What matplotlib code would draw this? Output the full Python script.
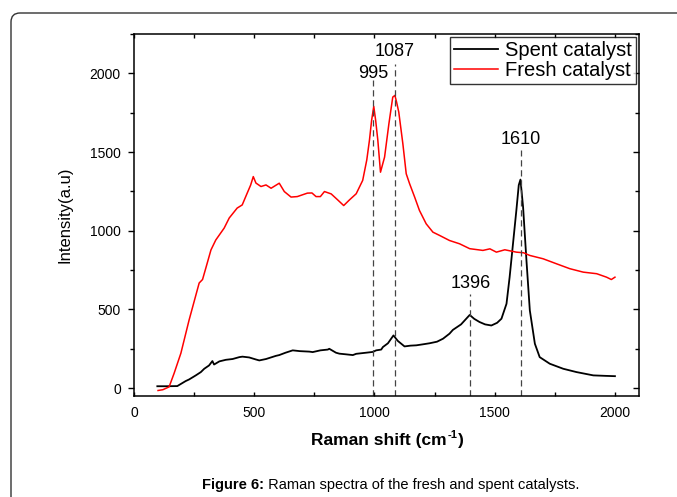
import matplotlib
matplotlib.use("Agg")
import matplotlib.pyplot as plt
from matplotlib.patches import FancyBboxPatch
from matplotlib.transforms import IdentityTransform
from matplotlib.ticker import MultipleLocator

plt.rcParams['font.family'] = ['Liberation Sans', 'DejaVu Sans']
plt.rcParams['mathtext.fontset'] = 'custom'
plt.rcParams['mathtext.rm'] = 'Liberation Sans'
plt.rcParams['mathtext.bf'] = 'Liberation Sans:bold'

# ---- data ----
fresh_x = [100, 120, 146, 167, 195, 229, 271, 285, 300, 320, 340, 375, 396, 429, 450, 471, 485,
           496, 507, 528, 549, 570, 604, 625, 653, 679, 721, 740, 757, 775, 792, 820, 847,
           872, 896, 924, 951, 968, 979, 988, 997, 1005, 1014, 1025, 1042, 1060, 1076, 1085,
           1092, 1101, 1118, 1132, 1146, 1167, 1187, 1215, 1243, 1271, 1312, 1354, 1396,
           1451, 1480, 1507, 1542, 1590, 1620, 1646, 1701, 1757, 1812, 1868, 1924, 1965, 1985, 2000]
fresh_y = [-15, -10, 8, 95, 222, 432, 668, 690, 770, 878, 941, 1017, 1081, 1144, 1164, 1240, 1290,
           1344, 1303, 1281, 1291, 1270, 1302, 1249, 1214, 1217, 1239, 1240, 1217, 1217, 1249,
           1234, 1196, 1160, 1196, 1235, 1320, 1450, 1574, 1700, 1790, 1700, 1574, 1372, 1468,
           1680, 1849, 1860, 1817, 1754, 1553, 1362, 1299, 1214, 1129, 1044, 991, 970, 938,
           917, 886, 875, 885, 864, 879, 864, 860, 843, 822, 790, 759, 737, 727, 705, 690, 705]

spent_x = [97, 130, 180, 215, 229, 257, 278, 292, 312, 320, 326, 333, 355, 382, 410, 438, 451,
           479, 507, 521, 549, 590, 604, 630, 660, 690, 729, 743, 775, 806, 812, 840, 854, 880,
           910, 924, 965, 993, 1007, 1028, 1035, 1056, 1079, 1097, 1125, 1150, 1174, 1200,
           1229, 1260, 1285, 1312, 1326, 1360, 1396, 1415, 1437, 1460, 1486, 1510, 1528, 1549,
           1562, 1576, 1590, 1600, 1607, 1618, 1632, 1646, 1667, 1687, 1729, 1785, 1840, 1910,
           1960, 2000]
spent_y = [12, 12, 13, 45, 55, 81, 102, 123, 144, 160, 172, 150, 170, 180, 185, 197, 200,
           195, 182, 176, 185, 205, 210, 225, 240, 235, 232, 229, 240, 245, 250, 225, 219, 215,
           210, 218, 225, 230, 240, 245, 261, 285, 335, 300, 265, 270, 272, 278,
           285, 295, 314, 346, 370, 405, 465, 440, 420, 405, 398, 415, 441, 536,
           705, 917, 1129, 1290, 1325, 1150, 811, 494, 282, 197, 155, 123, 102, 81,
           78, 76]

peak_pos = [995, 1087, 1396, 1610]
peak_labels = ["995", "1087", "1396", "1610"]
peak_line_top = [1960, 2061, 600, 1510]
peak_label_xy = [(996, 2001), (1083, 2141), (1399, 667), (1607, 1578)]

series_labels = ["Spent catalyst", "Fresh catalyst"]
xlabel_main = "Raman shift (cm"
xlabel_sup = "-1"
xlabel_end = ")"
ylabel = "Intensity(a.u)"
caption_bold = "Figure 6:"
caption_rest = " Raman spectra of the fresh and spent catalysts."

# ---- figure ----
W, H = 677, 497
fig = plt.figure(figsize=(W / 100, H / 100), dpi=100)
ax = fig.add_axes([134 / W, 1 - 396 / H, (639 - 134) / W, (396 - 34) / H])

ax.plot(spent_x, spent_y, color='black', lw=1.3, label=series_labels[0])
ax.plot(fresh_x, fresh_y, color='#ff0000', lw=1.1, label=series_labels[1])

ymin = -50
for xp, top, lab, (tx, ty) in zip(peak_pos, peak_line_top, peak_labels, peak_label_xy):
    ax.plot([xp, xp], [ymin, top], color='#444444', lw=0.9, linestyle=(0, (5, 3)))
    ax.text(tx, ty, lab, fontsize=13, ha='center', va='center')

ax.set_xlim(0, 2100)
ax.set_ylim(ymin, 2250)
ax.xaxis.set_major_locator(MultipleLocator(500))
ax.xaxis.set_minor_locator(MultipleLocator(250))
ax.yaxis.set_major_locator(MultipleLocator(500))
ax.yaxis.set_minor_locator(MultipleLocator(250))

for s in ax.spines.values():
    s.set_linewidth(1.1)

ax.tick_params(axis='x', which='major', direction='in', length=3, width=1, pad=7.5,
               labelsize=10, top=True)
ax.tick_params(axis='x', which='minor', direction='in', length=3, width=1, top=True)
ax.tick_params(axis='y', which='major', direction='out', length=4, width=1, pad=5.5,
               labelsize=10, right=True)
ax.tick_params(axis='y', which='minor', direction='out', length=3, width=1, right=True)
for t in ax.yaxis.get_major_ticks() + ax.yaxis.get_minor_ticks():
    t.tick2line.set_marker(matplotlib.lines.TICKLEFT)

ax.set_ylabel(ylabel, fontsize=12)
ax.yaxis.label.set_va('center')
ax.yaxis.set_label_coords((65 - 134) / 505, 0.5)

leg = ax.legend(loc='upper right', fontsize=14.5, frameon=True, fancybox=False,
                borderpad=0.2, labelspacing=0.05, handlelength=2.2, handletextpad=0.35,
                borderaxespad=0.15)
leg.get_frame().set_edgecolor('black')
leg.get_frame().set_linewidth(1.0)

# composite texts measured in pixels
renderer = fig.canvas.get_renderer()

def text_width(t):
    return t.get_window_extent(renderer).width

# x label: bold main + bold superscript with hyphen
xl_y = H - 441
t1 = fig.text(0, xl_y, xlabel_main, fontsize=12.5, fontweight='bold', va='center',
              transform=IdentityTransform())
t2 = fig.text(0, xl_y + 6, xlabel_sup, fontsize=8, fontweight='bold', va='center',
              transform=IdentityTransform())
t3 = fig.text(0, xl_y, xlabel_end, fontsize=12.5, fontweight='bold', va='center',
              transform=IdentityTransform())
w1, w2, w3 = text_width(t1), text_width(t2), text_width(t3)
x0 = 387 - (w1 + w2 + w3) / 2
t1.set_x(x0)
t2.set_x(x0 + w1 + 0.5)
t3.set_x(x0 + w1 + w2 + 1)

# caption
cap_y = H - 485
c1 = fig.text(0, cap_y, caption_bold, fontsize=10.5, fontweight='bold', va='center',
              transform=IdentityTransform())
c2 = fig.text(0, cap_y, caption_rest, fontsize=10.5, va='center',
              transform=IdentityTransform())
cw1, cw2 = text_width(c1), text_width(c2)
cx0 = 391 - (cw1 + cw2) / 2
c1.set_x(cx0)
c2.set_x(cx0 + cw1)

frame = FancyBboxPatch((11, -20), 720, 497 - 13 + 20,
                       boxstyle="round,pad=0,rounding_size=9",
                       transform=IdentityTransform(), fill=False,
                       edgecolor='#333333', linewidth=1.0)
fig.add_artist(frame)

fig.savefig("out.png", dpi=100)
